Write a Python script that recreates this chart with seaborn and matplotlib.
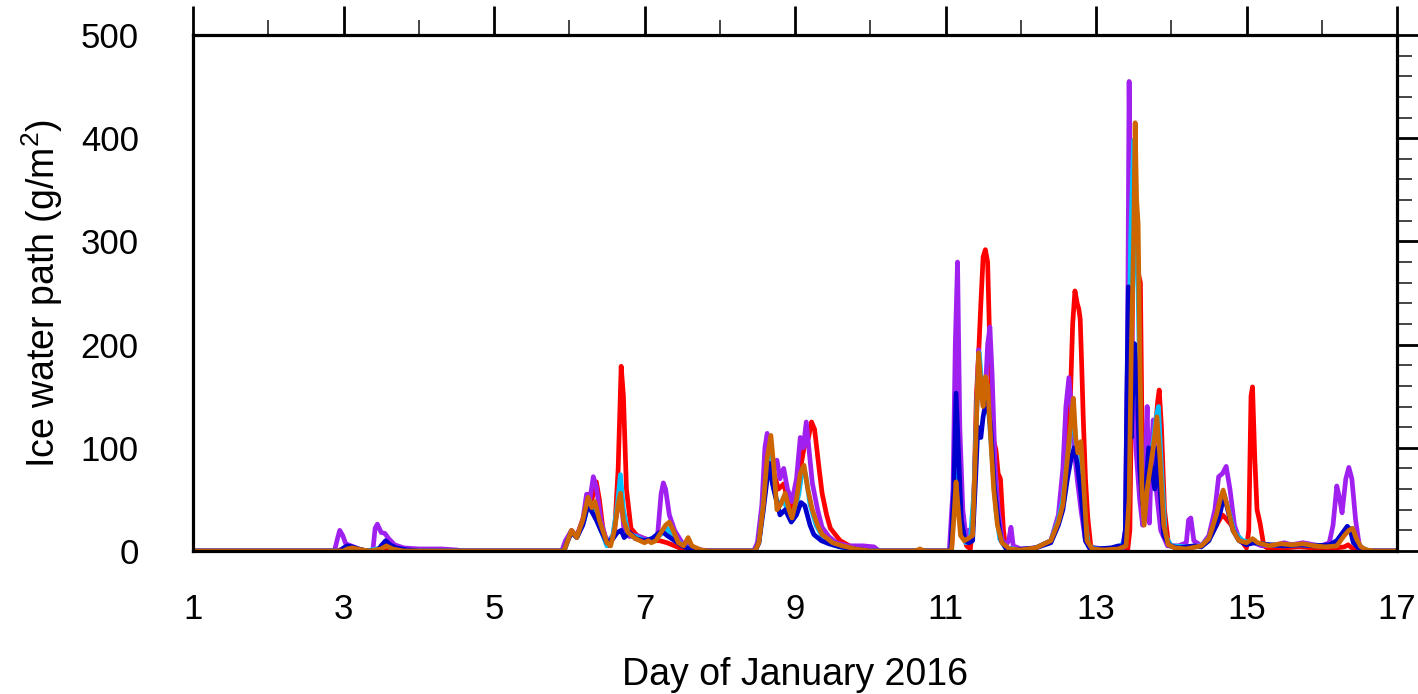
import numpy as np
import pandas as pd
import matplotlib
matplotlib.use("Agg")
import matplotlib.pyplot as plt
import seaborn as sns
from matplotlib.ticker import MultipleLocator

# ---------------- data (day of January 2016, ice water path g/m2) ----------------
red_x = [1.0, 2.9, 3.0, 3.2, 3.4, 3.5, 3.6, 3.8, 4.0, 5.92, 5.97, 6.03, 6.1, 6.2, 6.25, 6.3, 6.36, 6.4, 6.45, 6.52,
         6.6, 6.65, 6.69, 6.72, 6.76, 6.82, 6.9, 7.0, 7.1, 7.2, 7.3, 7.4, 7.5, 7.6, 7.7, 8.47, 8.52, 8.58, 8.63, 8.67,
         8.72, 8.78, 8.85, 8.92, 8.97, 9.05, 9.12, 9.18, 9.22, 9.26, 9.32, 9.36, 9.42, 9.47, 9.6, 9.75, 9.9, 10.0,
         11.08, 11.12, 11.16, 11.19, 11.23, 11.28, 11.33, 11.37, 11.41, 11.44, 11.47, 11.5, 11.53, 11.56, 11.59,
         11.63, 11.67, 11.7, 11.73, 11.77, 11.8, 11.85, 12.0, 12.2, 12.4, 12.5, 12.56, 12.62, 12.66, 12.69, 12.72,
         12.75, 12.77, 12.79, 12.81, 12.83, 12.86, 12.89, 12.93, 13.0, 13.2, 13.42, 13.45, 13.48, 13.5, 13.53,
         13.56, 13.59, 13.62, 13.65, 13.7, 13.74, 13.78, 13.82, 13.84, 13.87, 13.91, 13.96, 14.05, 14.2, 14.4,
         14.5, 14.6, 14.68, 14.72, 14.8, 14.88, 14.95, 15.0, 15.03, 15.06, 15.08, 15.11, 15.14, 15.18, 15.23,
         15.3, 15.5, 15.7, 15.9, 16.1, 16.3, 16.35, 16.4, 16.5, 17.0]
red_y = [0, 0, 2, 1, 0, 3, 3, 1, 0, 0, 10, 19, 14, 35, 55, 50, 67, 50, 20, 5,
         15, 80, 179, 150, 60, 22, 15, 12, 10, 10, 8, 5, 2, 1, 0, 0, 10, 50, 90, 105,
         75, 60, 65, 45, 40, 70, 100, 110, 125, 118, 80, 56, 35, 22, 10, 4, 1, 0,
         0, 60, 140, 80, 20, 5, 2, 30, 150, 190, 240, 285, 292, 280, 195,
         110, 98, 75, 70, 20, 3, 1, 1, 3, 10, 30, 55, 100, 150, 220, 252,
         240, 235, 225, 180, 130, 70, 33, 5, 2, 1, 0, 20, 200, 390, 300,
         270, 260, 60, 30, 60, 80, 110, 145, 156, 120, 40, 8, 3, 4, 5,
         12, 25, 35, 32, 25, 15, 8, 3, 20, 150, 159, 90, 40, 27, 5,
         2, 3, 4, 3, 2, 4, 6, 3, 0, 0]

purple_x = [1.0, 2.88, 2.92, 2.95, 2.99, 3.03, 3.1, 3.2, 3.3, 3.39, 3.42, 3.45, 3.5, 3.55, 3.6, 3.68, 3.8, 4.0, 4.3,
            4.5, 4.6, 5.9, 5.95, 6.03, 6.1, 6.18, 6.23, 6.27, 6.32, 6.36, 6.42, 6.5, 6.58, 6.64, 6.69, 6.73, 6.8,
            6.9, 7.0, 7.1, 7.17, 7.22, 7.25, 7.28, 7.33, 7.4, 7.5, 7.6, 7.75, 7.9, 8.45, 8.5, 8.56, 8.6, 8.63, 8.67,
            8.72, 8.76, 8.8, 8.85, 8.9, 8.96, 9.02, 9.07, 9.11, 9.15, 9.19, 9.23, 9.3, 9.36, 9.45, 9.55, 9.7, 9.9,
            10.05, 10.12, 11.05, 11.1, 11.13, 11.16, 11.19, 11.23, 11.27, 11.31, 11.36, 11.4, 11.44, 11.48, 11.52,
            11.56, 11.59, 11.62, 11.66, 11.7, 11.75, 11.8, 11.84, 11.87, 11.9, 12.0, 12.2, 12.4, 12.5, 12.56, 12.6,
            12.64, 12.67, 12.71, 12.75, 12.8, 12.86, 12.92, 13.0, 13.2, 13.35, 13.39, 13.42, 13.44, 13.46, 13.49,
            13.53, 13.58, 13.62, 13.65, 13.68, 13.71, 13.74, 13.76, 13.8, 13.86, 13.95, 14.1, 14.2, 14.23, 14.26,
            14.3, 14.4, 14.5, 14.58, 14.63, 14.68, 14.73, 14.78, 14.84, 14.9, 15.0, 15.1, 15.2, 15.4, 15.5, 15.6,
            15.75, 15.9, 16.0, 16.1, 16.15, 16.2, 16.24, 16.27, 16.32, 16.36, 16.4, 16.45, 16.5, 16.55, 17.0]
purple_y = [0, 0, 12, 20, 15, 7, 5, 2, 0, 0, 22, 26, 18, 17, 12, 6, 3, 2, 2,
            1, 0, 0, 10, 20, 14, 30, 55, 48, 72, 62, 30, 8, 15, 40, 50, 18, 14,
            15, 12, 10, 12, 55, 66, 60, 35, 20, 8, 4, 1, 0, 0, 8, 45, 100, 114, 100,
            80, 88, 70, 80, 60, 48, 70, 110, 100, 125, 95, 66, 40, 23, 14, 8, 5, 5,
            4, 0, 0, 60, 200, 280, 120, 40, 15, 20, 22, 100, 195, 150, 140,
            200, 217, 170, 80, 40, 12, 5, 10, 23, 5, 2, 3, 10, 35, 80, 140,
            168, 140, 98, 70, 40, 10, 3, 3, 1, 2, 20, 200, 455, 300, 150,
            100, 50, 25, 80, 140, 27, 100, 127, 60, 20, 5, 5, 8, 30, 32,
            10, 5, 15, 40, 72, 75, 82, 60, 25, 12, 8, 8, 5, 6, 8, 6,
            8, 6, 5, 8, 25, 63, 50, 37, 70, 81, 70, 30, 5, 0, 0]

cyan_x = [1.0, 2.95, 3.05, 3.2, 3.3, 3.5, 3.57, 3.7, 3.9, 5.93, 5.98, 6.03, 6.1, 6.2, 6.26, 6.32, 6.4, 6.5, 6.58,
          6.64, 6.68, 6.72, 6.78, 6.85, 7.0, 7.1, 7.2, 7.3, 7.4, 7.5, 7.6, 7.75, 8.47, 8.52, 8.58, 8.63, 8.67, 8.72,
          8.77, 8.85, 8.92, 8.97, 9.05, 9.1, 9.14, 9.2, 9.28, 9.38, 9.5, 9.7, 9.9, 11.07, 11.11, 11.14, 11.17,
          11.21, 11.27, 11.33, 11.38, 11.42, 11.45, 11.49, 11.53, 11.57, 11.62, 11.67, 11.72, 11.8, 12.0, 12.2,
          12.4, 12.5, 12.56, 12.62, 12.67, 12.7, 12.74, 12.79, 12.84, 12.9, 13.0, 13.3, 13.39, 13.42, 13.46, 13.5,
          13.53, 13.56, 13.6, 13.64, 13.7, 13.75, 13.8, 13.83, 13.87, 13.92, 14.0, 14.2, 14.4, 14.5, 14.6, 14.66,
          14.7, 14.76, 14.84, 14.95, 15.1, 15.3, 15.5, 15.7, 15.9, 16.1, 16.25, 16.35, 16.4, 16.45, 16.55, 16.65,
          17.0]
cyan_y = [0, 0, 3, 1, 0, 3, 6, 2, 0, 0, 10, 19, 13, 30, 50, 40, 25, 5, 15,
          45, 74, 40, 18, 15, 10, 12, 15, 22, 12, 6, 2, 0, 0, 8, 45, 80, 100, 60,
          45, 50, 35, 30, 55, 80, 75, 45, 25, 12, 6, 2, 0, 0, 40, 90, 50,
          20, 8, 10, 60, 150, 192, 150, 165, 140, 90, 40, 12, 3, 1, 3,
          10, 30, 50, 90, 120, 135, 100, 100, 40, 5, 2, 3, 10, 100, 300, 398,
          300, 250, 80, 30, 80, 100, 130, 140, 80, 15, 5, 4, 5, 12, 30, 45,
          55, 40, 18, 10, 8, 6, 5, 6, 5, 5, 12, 20, 22, 10, 2, 0,
          0]

blue_x = [1.0, 2.95, 3.0, 3.05, 3.12, 3.2, 3.3, 3.45, 3.5, 3.56, 3.62, 3.7, 3.85, 4.0, 5.93, 5.98, 6.03, 6.1, 6.18,
          6.25, 6.3, 6.36, 6.42, 6.5, 6.58, 6.64, 6.69, 6.73, 6.8, 6.88, 7.0, 7.1, 7.2, 7.25, 7.3, 7.4, 7.5, 7.6,
          7.75, 8.47, 8.52, 8.58, 8.63, 8.66, 8.7, 8.75, 8.8, 8.87, 8.95, 9.02, 9.08, 9.13, 9.2, 9.25, 9.35, 9.45,
          9.6, 9.8, 10.0, 11.07, 11.11, 11.14, 11.17, 11.21, 11.26, 11.31, 11.36, 11.4, 11.43, 11.47, 11.5, 11.55,
          11.6, 11.65, 11.7, 11.74, 11.8, 11.9, 12.2, 12.4, 12.5, 12.56, 12.62, 12.67, 12.71, 12.75, 12.8, 12.86,
          12.92, 13.0, 13.2, 13.3, 13.36, 13.39, 13.41, 13.43, 13.45, 13.47, 13.49, 13.51, 13.53, 13.55, 13.58,
          13.62, 13.66, 13.7, 13.74, 13.78, 13.82, 13.85, 13.9, 13.98, 14.1, 14.3, 14.4, 14.5, 14.6, 14.66, 14.7,
          14.75, 14.82, 14.9, 15.0, 15.1, 15.3, 15.5, 15.7, 15.9, 16.1, 16.2, 16.28, 16.34, 16.38, 16.42, 16.5,
          16.6, 17.0]
blue_y = [0, 0, 3, 5, 4, 2, 0, 0, 5, 10, 6, 3, 1, 0, 0, 10, 18, 13, 25,
          45, 38, 30, 20, 8, 12, 18, 20, 13, 18, 12, 10, 12, 18, 18, 15, 10, 5, 2,
          0, 0, 8, 40, 70, 85, 65, 50, 35, 40, 28, 35, 47, 44, 25, 16, 10, 7,
          4, 2, 0, 0, 60, 153, 100, 30, 10, 8, 10, 70, 120, 110, 130, 150,
          120, 60, 30, 10, 3, 1, 3, 8, 25, 40, 70, 90, 100, 85, 55, 10,
          2, 2, 3, 5, 4, 20, 150, 256, 200, 110, 160, 201, 180, 153, 80,
          45, 60, 100, 80, 60, 100, 60, 15, 5, 3, 5, 4, 10, 25, 40, 55,
          40, 20, 10, 6, 8, 6, 5, 6, 5, 6, 10, 18, 24, 20, 8, 2,
          0, 0]

orange_x = [1.0, 3.0, 3.05, 3.12, 3.25, 3.35, 3.5, 3.57, 3.65, 3.8, 5.93, 5.98, 6.03, 6.1, 6.18, 6.25, 6.3, 6.34,
            6.4, 6.5, 6.55, 6.6, 6.65, 6.68, 6.72, 6.78, 6.88, 7.0, 7.05, 7.09, 7.15, 7.22, 7.28, 7.33, 7.38, 7.45,
            7.52, 7.58, 7.63, 7.75, 7.85, 8.47, 8.52, 8.58, 8.63, 8.68, 8.72, 8.76, 8.81, 8.87, 8.92, 8.96, 9.02,
            9.07, 9.12, 9.17, 9.23, 9.3, 9.36, 9.5, 9.63, 9.8, 10.0, 10.6, 10.66, 10.72, 11.08, 11.11, 11.14, 11.17,
            11.2, 11.25, 11.3, 11.36, 11.4, 11.44, 11.48, 11.5, 11.53, 11.56, 11.6, 11.64, 11.69, 11.75, 11.85,
            12.0, 12.2, 12.4, 12.5, 12.56, 12.62, 12.66, 12.7, 12.73, 12.76, 12.8, 12.84, 12.88, 12.95, 13.1, 13.3,
            13.4, 13.44, 13.47, 13.5, 13.52, 13.54, 13.56, 13.58, 13.61, 13.64, 13.68, 13.72, 13.76, 13.81, 13.85,
            13.9, 13.96, 14.05, 14.2, 14.4, 14.5, 14.6, 14.65, 14.69, 14.74, 14.82, 14.9, 15.0, 15.08, 15.15, 15.3,
            15.45, 15.6, 15.75, 15.9, 16.05, 16.2, 16.3, 16.36, 16.41, 16.46, 16.52, 16.6, 16.7, 17.0]
orange_y = [0, 0, 2, 3, 1, 0, 2, 5, 2, 0, 0, 10, 20, 13, 30, 52, 42, 48,
            30, 8, 5, 20, 45, 56, 30, 18, 12, 8, 10, 8, 10, 18, 25, 28, 20, 8,
            5, 13, 5, 1, 0, 0, 8, 45, 90, 112, 80, 40, 45, 56, 40, 32, 50,
            75, 83, 60, 40, 25, 16, 8, 5, 2, 0, 0, 2, 0, 0, 30, 67, 40,
            15, 10, 12, 15, 100, 192, 150, 140, 169, 160, 110, 60, 25, 8, 2,
            1, 3, 10, 28, 45, 90, 120, 148, 110, 95, 106, 60, 10, 2, 1, 2,
            5, 50, 200, 300, 415, 340, 317, 200, 60, 25, 60, 80, 100, 130, 90,
            25, 6, 3, 2, 5, 12, 35, 50, 59, 45, 20, 10, 8, 12, 8, 5,
            7, 6, 7, 5, 4, 5, 15, 20, 22, 12, 4, 1, 0, 0]

runs = ["red", "purple", "cyan", "blue", "orange"]
palette = {"red": "#FF0000", "purple": "#A020F0", "cyan": "#00BFFF",
           "blue": "#0000CD", "orange": "#CD6600"}

frames = []
for name, xs, ys in [("red", red_x, red_y), ("purple", purple_x, purple_y),
                     ("cyan", cyan_x, cyan_y), ("blue", blue_x, blue_y),
                     ("orange", orange_x, orange_y)]:
    frames.append(pd.DataFrame({"day": xs, "iwp": ys, "run": name}))
df = pd.concat(frames, ignore_index=True)

x_ticks = [1, 3, 5, 7, 9, 11, 13, 15, 17]
y_ticks = [0, 100, 200, 300, 400, 500]

# ---------------- plot ----------------
sns.set_style("white")
plt.rcParams["font.family"] = ["Liberation Sans", "DejaVu Sans"]
plt.rcParams["mathtext.fontset"] = "custom"
plt.rcParams["mathtext.rm"] = "Liberation Sans"
plt.rcParams["mathtext.it"] = "Liberation Sans:italic"
plt.rcParams["text.color"] = "black"
plt.rcParams["axes.labelcolor"] = "black"
plt.rcParams["xtick.color"] = "black"
plt.rcParams["ytick.color"] = "black"

fig = plt.figure(figsize=(14.18, 6.94), dpi=100)
ax = fig.add_axes([193 / 1418, 143 / 694, 1204 / 1418, 516 / 694])

sns.lineplot(data=df, x="day", y="iwp", hue="run", hue_order=runs, palette=palette,
             estimator=None, sort=False, linewidth=3.4, legend=False, ax=ax)
for ln in ax.get_lines():
    ln.set_solid_joinstyle("round")

ax.set_xlim(1, 17)
ax.set_ylim(0, 500)
ax.set_xticks(x_ticks)
ax.set_yticks(y_ticks)
ax.xaxis.set_minor_locator(MultipleLocator(1))
ax.yaxis.set_minor_locator(MultipleLocator(20))

for s in ax.spines.values():
    s.set_linewidth(2.3)
    s.set_color("black")

ax.tick_params(which="major", direction="out", length=21, width=2.0, color="black",
               labelcolor="black", top=True, right=True, labelsize=25)
ax.tick_params(which="minor", direction="out", length=11, width=1.4, color="#444444",
               top=True, right=True)
ax.tick_params(axis="x", which="major", pad=9)
ax.tick_params(axis="y", which="major", pad=18)

ax.set_xlabel("Day of January 2016", fontsize=27, color="black")
ax.set_ylabel("Ice water path (g/m$^2$)", fontsize=27, color="black")
ax.xaxis.set_label_coords(0.5, -0.205)
ax.yaxis.set_label_coords(-0.106, 0.5)

fig.savefig("out.png", dpi=100)
